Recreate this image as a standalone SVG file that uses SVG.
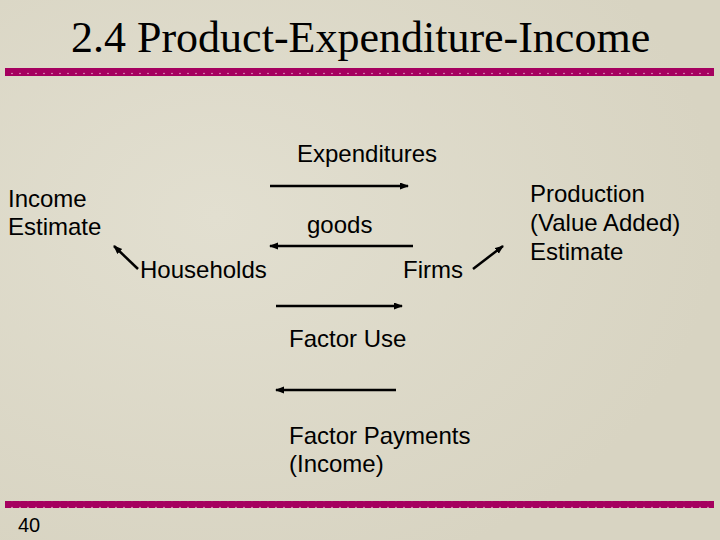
<svg xmlns="http://www.w3.org/2000/svg" width="720" height="540" viewBox="0 0 720 540">
  <defs>
    <style>
      .title { font-family: "Liberation Serif", "Times New Roman", serif; font-size: 44px; fill: #000; }
      .lbl { font-family: "Liberation Sans", Arial, sans-serif; font-size: 24px; fill: #000; }
      .num { font-family: "Liberation Sans", Arial, sans-serif; font-size: 20px; fill: #000; }
      .conn { stroke: #000; stroke-width: 2.5; fill: none; marker-end: url(#ah); }
    </style>
    <marker id="ah" markerUnits="userSpaceOnUse" markerWidth="10" markerHeight="8" refX="8" refY="3.5" orient="auto">
      <path d="M0,0 L9,3.5 L0,7 z" fill="#000"/>
    </marker>
    <pattern id="dots" width="8" height="7" patternUnits="userSpaceOnUse">
      <rect width="8" height="7" fill="#A5005F"/>
      <circle cx="4" cy="3.5" r="0.7" fill="#F4C0DC"/>
    </pattern>
    <radialGradient id="bg1" cx="0.3" cy="0.4" r="0.7">
      <stop offset="0" stop-color="#E2DFD0"/>
      <stop offset="1" stop-color="#D8D4C2"/>
    </radialGradient>
  </defs>
  <rect width="720" height="540" fill="url(#bg1)"/>
  <rect x="5" y="68" width="709" height="8" fill="url(#dots)"/>
  <rect x="5" y="501" width="709" height="7" fill="url(#dots)"/>
  <text class="title" x="71" y="52">2.4 Product-Expenditure-Income</text>

  <g id="expenditures"><text class="lbl" x="297" y="162">Expenditures</text></g>
  <g id="income-estimate"><text class="lbl" x="8" y="207">Income</text><text class="lbl" x="8" y="235">Estimate</text></g>
  <g id="goods"><text class="lbl" x="307" y="233">goods</text></g>
  <g id="households"><text class="lbl" x="140" y="278">Households</text></g>
  <g id="firms"><text class="lbl" x="403" y="278">Firms</text></g>
  <g id="factor-use"><text class="lbl" x="289" y="347">Factor Use</text></g>
  <g id="factor-payments"><text class="lbl" x="289" y="444">Factor Payments</text><text class="lbl" x="289" y="472">(Income)</text></g>
  <g id="production"><text class="lbl" x="530" y="202">Production</text><text class="lbl" x="530" y="231">(Value Added)</text><text class="lbl" x="530" y="260">Estimate</text></g>
  <g id="page-number"><text class="num" x="18" y="532">40</text></g>

  <g id="connectors">
    <line class="conn" x1="270" y1="186" x2="408" y2="186"/>
    <line class="conn" x1="413" y1="246" x2="270" y2="246"/>
    <line class="conn" x1="276" y1="306" x2="402" y2="306"/>
    <line class="conn" x1="396" y1="390" x2="276" y2="390"/>
    <line class="conn" x1="138" y1="269" x2="114" y2="246"/>
    <line class="conn" x1="473" y1="269" x2="503" y2="246"/>
  </g>
</svg>
